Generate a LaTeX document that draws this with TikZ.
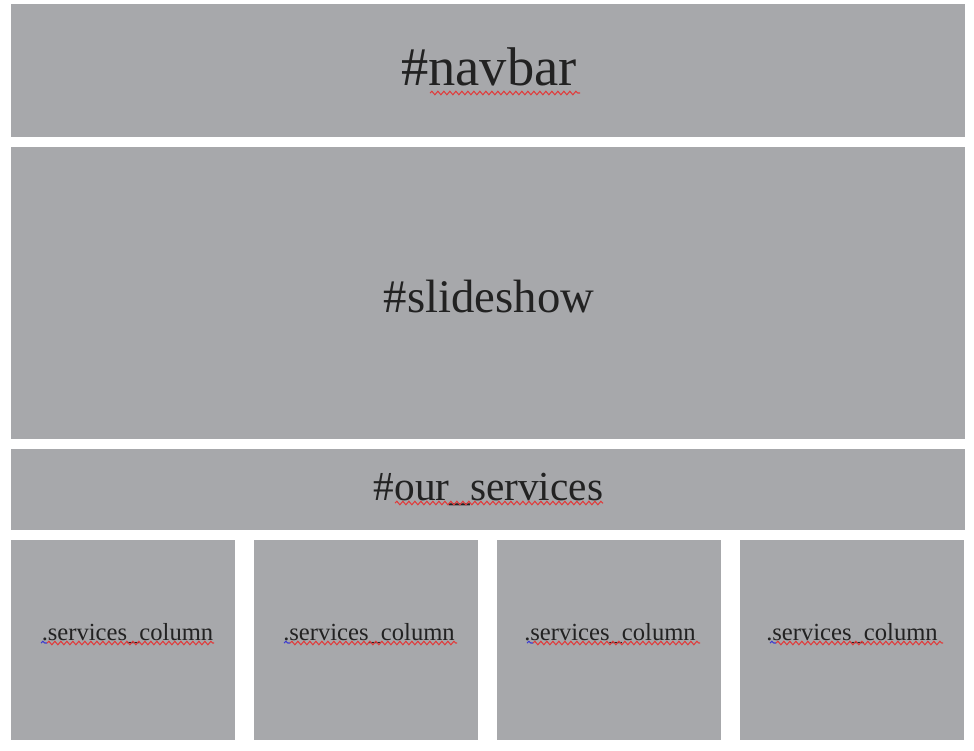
\documentclass[tikz,border=0pt]{standalone}
\usepackage{fontspec}
\setmainfont{Liberation Serif}
\usetikzlibrary{decorations.pathmorphing}
\definecolor{boxgray}{HTML}{A7A8AB}
\definecolor{inkgray}{HTML}{222222}
\definecolor{spellred}{HTML}{E03C3C}
\definecolor{spellblue}{HTML}{3C3CD0}

\begin{document}
\begin{tikzpicture}
			\tikzstyle{layoutbox} = [rectangle, fill=boxgray, draw=none, inner sep=0pt]
			\tikzstyle{boxlabel} = [text=inkgray, anchor=base, inner sep=0pt]
			\tikzstyle{squiggle} = [decorate, decoration={snake, segment length=0.12cm, amplitude=0.035cm}, line width=0.6pt]
			
			\useasboundingbox[fill=white] (0,0) rectangle (19.48,-15);
			
			\node [layoutbox, minimum width=19.08cm, minimum height=2.66cm] (navbar) at (9.76,-1.41) {};
			\node [layoutbox, minimum width=19.08cm, minimum height=5.84cm] (slideshow) at (9.76,-5.86) {};
			\node [layoutbox, minimum width=19.08cm, minimum height=1.62cm] (services) at (9.76,-9.79) {};
			\foreach \cx [count=\i] in {2.46,7.32,12.18,17.04}
				\node [layoutbox, minimum width=4.48cm, minimum height=4cm] (column\i) at (\cx,-12.8) {};
			
			
			\node [boxlabel, font=\fontsize{31}{36}\selectfont] (navtext) at (9.78,-1.7) {\#navbar};
			\node [boxlabel, font=\fontsize{26.6}{31}\selectfont] (slidetext) at (9.78,-6.24) {\#slideshow};
			\node [boxlabel, font=\fontsize{23.5}{28}\selectfont] (servtext) at (9.77,-10.0) {\#our\_services};
			\foreach \cx [count=\i] in {2.55,7.38,12.2,17.04}
				\node [boxlabel, font=\fontsize{14}{17}\selectfont] (coltext\i) at (\cx,-12.8) {.services\_column};
			
			
			\draw [squiggle, spellred] (8.6,-1.86) -- (11.6,-1.86);
			\draw [squiggle, spellred] (7.9,-10.06) -- (12.06,-10.06);
			\foreach \lx in {0.22,5.08,9.94,14.8} {
				\draw [squiggle, spellblue] (\lx+0.6,-12.86) -- (\lx+0.72,-12.86);
				\draw [squiggle, spellred] (\lx+0.72,-12.86) -- (\lx+4.06,-12.86);
			}
			
\end{tikzpicture}
\end{document}
